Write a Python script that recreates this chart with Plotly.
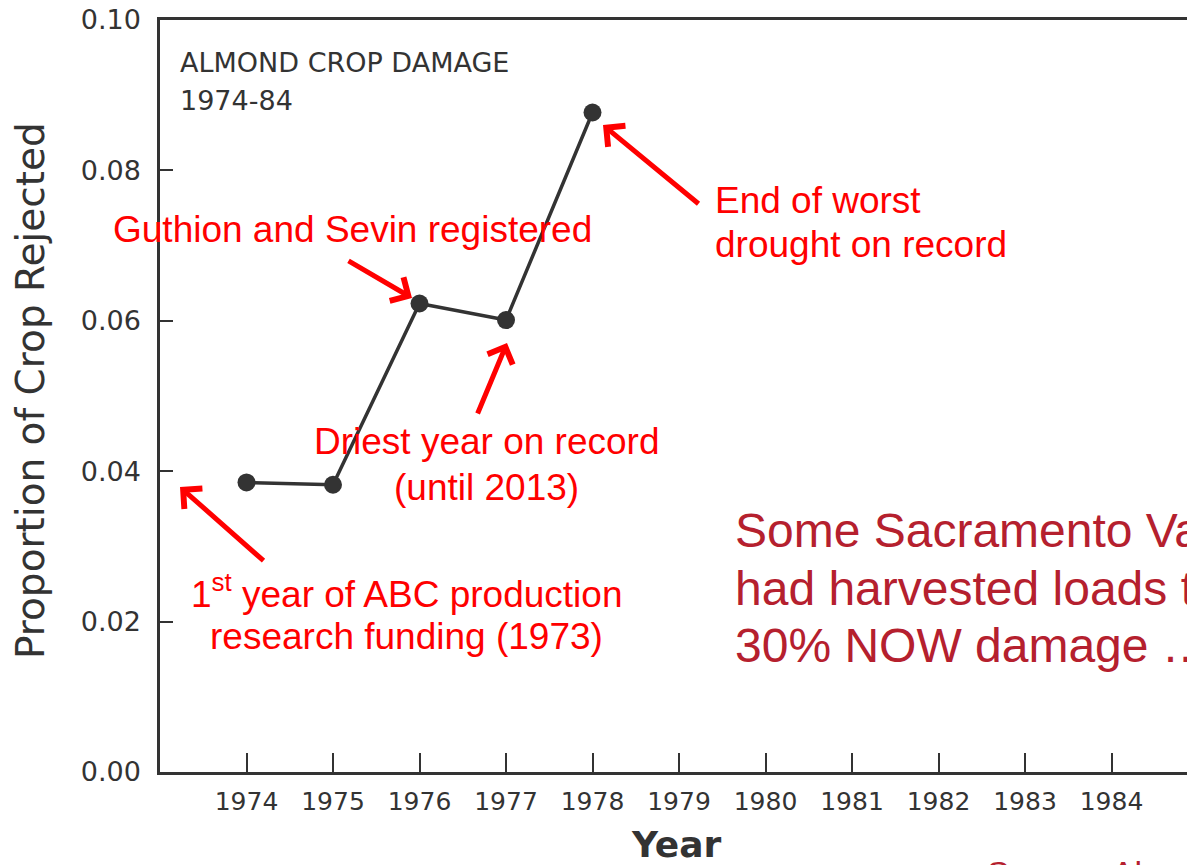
import plotly.graph_objects as go

# Almond crop damage, proportion of crop rejected per year
years = [1974, 1975, 1976, 1977, 1978]
rejected = [0.0385, 0.0382, 0.0623, 0.0601, 0.0877]

x_ticks = list(range(1974, 1985))
y_ticks = [0.00, 0.02, 0.04, 0.06, 0.08, 0.10]
y_tick_text = ["0.00", "0.02", "0.04", "0.06", "0.08", "0.10"]

W, H = 1187, 865
L, R, T, B = 160, 0, 20, 93
PW, PH = W - L - R, H - T - B

INK = "#333333"
RED = "#FF0000"
DARK_RED = "#B5202E"
SCAN_FONT = "DejaVu Sans"
SLIDE_FONT = "Liberation Sans"


def px(x):
    return (x - L) / PW


def py(y):
    return (H - B - y) / PH


fig = go.Figure()
fig.add_trace(go.Scatter(
    x=years, y=rejected, mode="lines+markers",
    line=dict(color=INK, width=3.5),
    marker=dict(color=INK, size=18),
    showlegend=False, cliponaxis=False,
))

ann = []


def text(s, x, y, size, color, font=SCAN_FONT, xanchor="left", angle=0, yanchor="middle"):
    ann.append(dict(text=s, x=px(x), y=py(y), xref="paper", yref="paper",
                    xanchor=xanchor, yanchor=yanchor, showarrow=False, textangle=angle,
                    font=dict(family=font, size=size, color=color)))


def arrow(hx, hy, tx, ty):
    ann.append(dict(text="", x=px(hx), y=py(hy), ax=tx - hx, ay=ty - hy,
                    xref="paper", yref="paper", axref="pixel", ayref="pixel",
                    showarrow=True, arrowhead=4, arrowsize=1.05, arrowwidth=5,
                    arrowcolor=RED, standoff=0))


# labels printed on the original chart
text("ALMOND CROP DAMAGE", 178, 63, 27, INK)
text("1974-84", 178, 100, 27, INK)
text("Proportion of Crop Rejected", 30, 391, 39, INK, xanchor="center", angle=-90)
text("<b>Year</b>", 676, 844, 36, INK, xanchor="center")

# red callouts
text("Guthion and Sevin registered", 352, 229, 37, RED, SLIDE_FONT, "center")
text("End of worst", 713, 200, 37, RED, SLIDE_FONT)
text("drought on record", 713, 245, 37, RED, SLIDE_FONT)
text("Driest year on record", 486, 441, 37, RED, SLIDE_FONT, "center")
text("(until 2013)", 486, 487, 37, RED, SLIDE_FONT, "center")
text("1<sup>st</sup> year of ABC production", 407, 591, 37, RED, SLIDE_FONT, "center")
text("research funding (1973)", 406, 636, 37, RED, SLIDE_FONT, "center")

text("Some Sacramento Valley growers", 733, 530, 48, DARK_RED, SLIDE_FONT)
text("had harvested loads that exceeded", 733, 588, 48, DARK_RED, SLIDE_FONT)
text("30% NOW damage \u2026", 733, 645, 48, DARK_RED, SLIDE_FONT)
text("Source: Almond Board of California", 985, 852, 34, DARK_RED, SLIDE_FONT, yanchor="top")

arrow(603, 125, 700, 205)
arrow(412, 298, 347, 260)
arrow(507, 343, 477, 415)
arrow(180, 487, 265, 562)

fig.update_layout(
    width=W, height=H,
    margin=dict(l=L, r=R, t=T, b=B, autoexpand=False),
    paper_bgcolor="white", plot_bgcolor="white",
    annotations=ann,
    xaxis=dict(
        range=[1973, 1973 + PW / 86.5], tickvals=x_ticks,
        ticktext=[str(v) for v in x_ticks],
        showline=True, mirror=True, linecolor=INK, linewidth=2.5,
        ticks="inside", ticklen=19, tickwidth=2, tickcolor=INK,
        showgrid=False, zeroline=False,
        tickfont=dict(family=SCAN_FONT, size=25, color=INK),
        ticklabelstandoff=5,
    ),
    yaxis=dict(
        range=[0, 0.1], tickvals=y_ticks, ticktext=y_tick_text,
        showline=True, mirror=False, linecolor=INK, linewidth=2.5,
        ticks="inside", ticklen=13, tickwidth=2, tickcolor=INK,
        showgrid=False, zeroline=False,
        tickfont=dict(family=SCAN_FONT, size=27, color=INK),
        ticklabelstandoff=11,
    ),
)

fig.write_html("out.html")
